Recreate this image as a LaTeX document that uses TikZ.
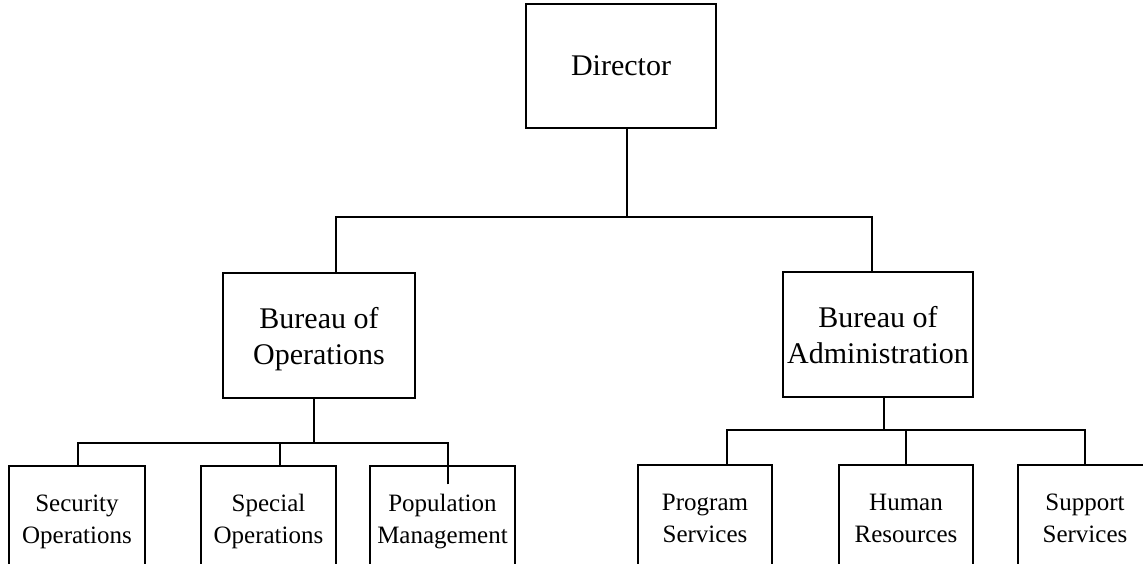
\documentclass[tikz,border=0pt]{standalone}
\usepackage{fontspec}
\setmainfont{Liberation Serif}
\usepackage{tikz}

\tikzset{
  bigbox/.style={draw, align=center, inner sep=0pt, text depth=0pt, font=\fontsize{30}{36}\selectfont},
  smallbox/.style={draw, align=center, inner sep=0pt, text depth=0pt, minimum width=135pt, minimum height=106pt, font=\fontsize{25}{32}\selectfont},
}

\begin{document}
\begin{tikzpicture}[x=1pt,y=-1pt,line width=1.4pt]
\useasboundingbox (0,0) rectangle (1143,564);
\clip (0,0) rectangle (1143,564);
\node [bigbox, minimum width=190pt, minimum height=124pt] (dir) at (621,66) {Director};
\node [bigbox, minimum width=192pt, minimum height=125pt] (ops) at (319,335.5) {Bureau of\\Operations};
\node [bigbox, minimum width=190pt, minimum height=125pt] (adm) at (878,334.5) {Bureau of\\Administration};
\node [smallbox, minimum width=136pt] (sec) at (77,519) {Security\\Operations};
\node [smallbox] (spo) at (268.5,519) {Special\\Operations};
\node [smallbox, minimum width=145pt] (pop) at (442.5,519) {Population\\Management};
\node [smallbox, minimum width=134pt] (prg) at (705,518) {Program\\Services};
\node [smallbox, minimum width=134pt] (hr) at (906,518) {Human\\Resources};
\node [smallbox, minimum width=134pt] (sup) at (1085,518) {Support\\Services};
\coordinate (topbus) at (627,217);
\coordinate (opsbus) at (314,443);
\coordinate (admbus) at (884,430);
\draw ([xshift=6pt]dir.south) -- (topbus);
\draw ([xshift=17pt]ops.north) |- (topbus);
\draw ([xshift=-6pt]adm.north) |- (topbus);
\draw ([xshift=-5pt]ops.south) -- (opsbus);
\draw ([xshift=1pt]sec.north) |- (opsbus);
\draw ([xshift=11.5pt]spo.north) |- (opsbus);
\draw ([xshift=5.5pt,yshift=-19pt]pop.north) |- (opsbus);
\draw ([xshift=6pt]adm.south) -- (admbus);
\draw ([xshift=22pt]prg.north) |- (admbus);
\draw (hr.north) |- (admbus);
\draw (sup.north) |- (admbus);
\end{tikzpicture}
\end{document}
